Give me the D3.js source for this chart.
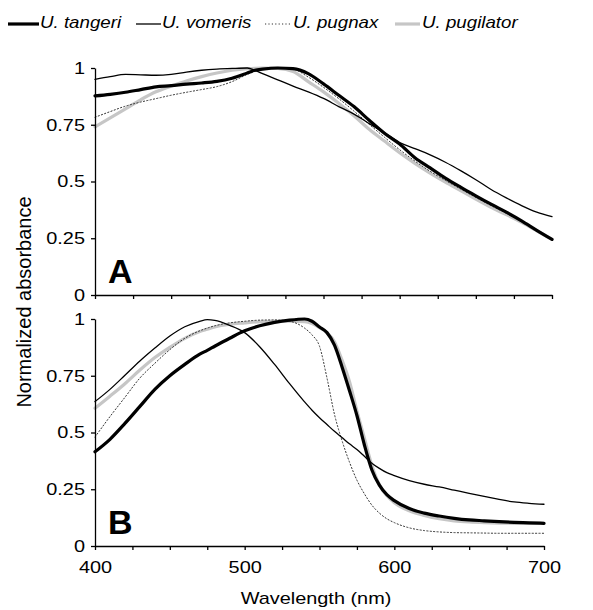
<!DOCTYPE html>
<html>
<head>
<meta charset="utf-8">
<script src="https://cdn.jsdelivr.net/npm/d3@7"></script>
<style>
  body { margin: 0; background: #fff; }
  svg { font-family: "Liberation Sans", Arial, Helvetica, sans-serif; }
  .axis path, .axis line { stroke: #000; stroke-width: 1.3; }
</style>
</head>
<body>
<div id="chart"></div>
<script>
// wavelengths (nm) sampled for each panel
const wavelengthsA = [400, 410, 420, 430, 440, 450, 460, 470, 480, 490, 500, 505, 510, 520, 530, 540,
  550, 560, 570, 580, 590, 600, 610, 620, 630, 640, 650, 660, 670, 680, 690, 700];
const wavelengthsB = [400, 410, 420, 430, 440, 450, 460, 470, 475, 480, 490, 500, 510, 520, 530, 540,
  545, 550, 555, 560, 565, 570, 575, 580, 585, 590, 595, 600, 610, 620, 630, 640, 650, 660, 670, 680, 690, 700];

// panel A
const tangeriA = [0.877, 0.884, 0.893, 0.905, 0.917, 0.922, 0.929, 0.934, 0.941, 0.955, 0.978, 0.99, 0.995, 1.0, 0.997, 0.975,
  0.93, 0.88, 0.83, 0.77, 0.713, 0.665, 0.605, 0.56, 0.515, 0.475, 0.437, 0.40, 0.365, 0.327, 0.285, 0.245];
const vomerisA = [0.95, 0.962, 0.972, 0.97, 0.968, 0.972, 0.982, 0.99, 0.995, 0.998, 1.0, 0.99, 0.975, 0.948, 0.92, 0.895,
  0.866, 0.83, 0.797, 0.755, 0.715, 0.672, 0.645, 0.617, 0.585, 0.548, 0.508, 0.465, 0.428, 0.394, 0.365, 0.345];
const pugnaxA = [0.783, 0.808, 0.832, 0.85, 0.865, 0.88, 0.893, 0.905, 0.918, 0.94, 0.972, 0.985, 0.995, 1.0, 0.995, 0.96,
  0.915, 0.865, 0.81, 0.752, 0.695, 0.64, 0.59, 0.545, 0.505, 0.467, 0.43, 0.394, 0.36, 0.325, 0.285, 0.245];
const pugilatorA = [0.741, 0.78, 0.82, 0.86, 0.895, 0.92, 0.943, 0.962, 0.978, 0.99, 0.997, 0.999, 1.0, 0.998, 0.985, 0.94,
  0.895, 0.845, 0.79, 0.73, 0.678, 0.627, 0.58, 0.537, 0.497, 0.46, 0.422, 0.386, 0.354, 0.32, 0.283, 0.245];

// panel B
const tangeriB = [0.415, 0.47, 0.54, 0.615, 0.69, 0.75, 0.80, 0.845, 0.862, 0.88, 0.915, 0.948, 0.97, 0.985, 0.995, 1.0,
  0.99, 0.965, 0.94, 0.885, 0.79, 0.685, 0.575, 0.445, 0.335, 0.268, 0.226, 0.2, 0.165, 0.145, 0.132, 0.122, 0.115, 0.111, 0.107, 0.104, 0.102, 0.10];
const vomerisB = [0.636, 0.69, 0.752, 0.815, 0.872, 0.925, 0.966, 0.99, 0.997, 0.994, 0.972, 0.94, 0.878, 0.80, 0.715, 0.635,
  0.598, 0.565, 0.535, 0.505, 0.478, 0.45, 0.425, 0.395, 0.365, 0.342, 0.323, 0.31, 0.288, 0.272, 0.26, 0.246, 0.232, 0.219, 0.205, 0.194, 0.188, 0.184];
const pugnaxB = [0.48, 0.57, 0.655, 0.74, 0.805, 0.865, 0.915, 0.948, 0.96, 0.97, 0.983, 0.99, 0.995, 0.996, 0.99, 0.96,
  0.93, 0.88, 0.74, 0.58, 0.465, 0.37, 0.29, 0.23, 0.18, 0.145, 0.12, 0.103, 0.08, 0.068, 0.062, 0.059, 0.058, 0.057, 0.056, 0.056, 0.056, 0.056];
const pugilatorB = [0.607, 0.66, 0.715, 0.775, 0.83, 0.875, 0.915, 0.945, 0.955, 0.965, 0.977, 0.983, 0.988, 0.99, 0.99, 0.988,
  0.98, 0.962, 0.94, 0.9, 0.82, 0.725, 0.595, 0.475, 0.355, 0.27, 0.222, 0.19, 0.155, 0.135, 0.12, 0.111, 0.106, 0.103, 0.101, 0.10, 0.10, 0.10];

const species = ['U. tangeri', 'U. vomeris', 'U. pugnax', 'U. pugilator'];
const yTicks = [0, 0.25, 0.5, 0.75, 1];
const xTicks = d3.range(400, 701, 25);
const xLabels = [400, 500, 600, 700];

const styles = {
  'U. tangeri': { stroke: '#000', width: 3.2, dash: null },
  'U. vomeris': { stroke: '#000', width: 1.3, dash: null },
  'U. pugnax': { stroke: '#333', width: 1, dash: '1.2,2.2' },
  'U. pugilator': { stroke: '#c6c6c6', width: 3.2, dash: null }
};
const drawOrder = ['U. pugilator', 'U. pugnax', 'U. vomeris', 'U. tangeri'];
const sx = 1.17; // horizontal stretch of the original lettering

const svg = d3.select('#chart').append('svg')
  .attr('width', 593)
  .attr('height', 610);

const panels = [
  { label: 'A', wl: wavelengthsA, series: [tangeriA, vomerisA, pugnaxA, pugilatorA], x0: 95, x1: 552, top: 68, bottom: 295, labels: false },
  { label: 'B', wl: wavelengthsB, series: [tangeriB, vomerisB, pugnaxB, pugilatorB], x0: 95, x1: 544, top: 319, bottom: 546, labels: true }
];

panels.forEach(p => {
  const x = d3.scaleLinear().domain([400, 700]).range([p.x0, p.x1]);
  const y = d3.scaleLinear().domain([0, 1]).range([p.bottom, p.top]);

  const line = d3.line()
    .curve(d3.curveMonotoneX)
    .x(d => x(d[0]))
    .y(d => y(d[1]));

  const g = svg.append('g').attr('class', 'panel');

  drawOrder.forEach(name => {
    const vals = p.series[species.indexOf(name)];
    const st = styles[name];
    g.append('path')
      .datum(p.wl.map((w, i) => [w, vals[i]]))
      .attr('fill', 'none')
      .attr('stroke', st.stroke)
      .attr('stroke-width', st.width)
      .attr('stroke-dasharray', st.dash)
      .attr('stroke-linejoin', 'round')
      .attr('stroke-linecap', 'round')
      .attr('d', line);
  });

  const yAxis = g.append('g')
    .attr('class', 'axis')
    .attr('transform', `translate(${p.x0},0)`)
    .call(d3.axisLeft(y).tickValues(yTicks).tickSize(4).tickSizeOuter(0).tickFormat(d => String(d)));
  yAxis.selectAll('text')
    .attr('font-size', 17)
    .attr('fill', '#000')
    .attr('x', -10 / sx)
    .attr('transform', `scale(${sx},1)`);

  const xAxis = g.append('g')
    .attr('class', 'axis')
    .attr('transform', `translate(0,${p.bottom})`)
    .call(d3.axisBottom(x).tickValues(xTicks).tickSize(4).tickSizeOuter(0).tickPadding(11)
      .tickFormat(d => (p.labels && xLabels.includes(d)) ? String(d) : ''));
  xAxis.selectAll('text')
    .attr('font-size', 17)
    .attr('fill', '#000')
    .attr('transform', `scale(${sx},1)`);

  svg.append('text')
    .attr('x', 108)
    .attr('y', p.bottom - 12)
    .attr('font-size', 34)
    .attr('font-weight', 'bold')
    .text(p.label);
});

svg.append('text')
  .attr('transform', `translate(316,604) scale(${sx},1)`)
  .attr('text-anchor', 'middle')
  .attr('font-size', 17)
  .text('Wavelength (nm)');

svg.append('text')
  .attr('transform', 'translate(31,302) rotate(-90)')
  .attr('text-anchor', 'middle')
  .attr('font-size', 20)
  .text('Normalized absorbance');

// legend
const legendPos = [
  { line: [8, 39], text: 40 },
  { line: [136, 161], text: 162 },
  { line: [265, 290], text: 293 },
  { line: [395, 420], text: 422 }
];
const legend = svg.append('g').attr('class', 'legend');
species.forEach((name, i) => {
  const st = styles[name];
  const pos = legendPos[i];
  legend.append('line')
    .attr('x1', pos.line[0]).attr('x2', pos.line[1])
    .attr('y1', 24).attr('y2', 24)
    .attr('stroke', st.stroke)
    .attr('stroke-width', st.width)
    .attr('stroke-dasharray', st.dash);
  legend.append('text')
    .attr('transform', `translate(${pos.text},28) scale(${sx},1)`)
    .attr('font-size', 16)
    .attr('font-style', 'italic')
    .text(name);
});
</script>
</body>
</html>
